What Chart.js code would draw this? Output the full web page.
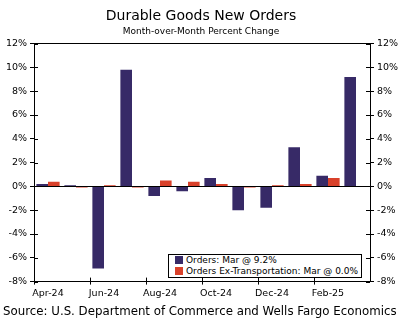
<!DOCTYPE html>
<html>
<head>
<meta charset="utf-8">
<script src="https://cdn.jsdelivr.net/npm/chart.js@4/dist/chart.umd.min.js"></script>
<style>
  html, body { margin: 0; padding: 0; background: #fff; }
  #wrap { position: relative; width: 402px; height: 324px; font-family: "DejaVu Sans", Verdana, sans-serif; }
  #chart { position: absolute; left: 0; top: 0; }
  #legend { position: absolute; left: 168px; top: 254px; width: 192px; border: 1px solid #000; background: #fff;
            font-size: 9px; line-height: 11px; color: #000; }
  #legend div { white-space: nowrap; padding-left: 6px; }
  #legend span { display: inline-block; width: 8px; height: 8px; margin-right: 3px; vertical-align: -1px; }
  #source { position: absolute; left: 3px; top: 304px; font-size: 11.8px; color: #000; white-space: nowrap; }
</style>
</head>
<body>
<div id="wrap">
  <canvas id="chart" width="402" height="324"></canvas>
  <div id="legend"></div>
  <div id="source">Source: U.S. Department of Commerce and Wells Fargo Economics</div>
</div>
<script>
var months = ['Apr-24', 'May-24', 'Jun-24', 'Jul-24', 'Aug-24', 'Sep-24', 'Oct-24', 'Nov-24', 'Dec-24', 'Jan-25', 'Feb-25', 'Mar-25'];
var orders = [0.2, 0.1, -6.9, 9.8, -0.8, -0.4, 0.7, -2.0, -1.8, 3.3, 0.9, 9.2];
var exTransport = [0.4, -0.1, 0.1, -0.1, 0.5, 0.4, 0.2, -0.1, 0.1, 0.2, 0.7, 0.0];
var yTicks = [-8, -6, -4, -2, 0, 2, 4, 6, 8, 10, 12];

var navy = '#372A67';
var red = '#D9412A';
var font = 'DejaVu Sans';

// tick marks that cross the axis lines
var crossTicks = {
    id: 'crossTicks',
    afterDraw: function(chart) {
        var c = chart.ctx, a = chart.chartArea;
        c.save();
        c.strokeStyle = '#000';
        c.lineWidth = 1;
        c.beginPath();
        yTicks.forEach(function(v) {
            var y = Math.round(chart.scales.y.getPixelForValue(v)) + 0.5;
            c.moveTo(a.left, y); c.lineTo(a.left + 4, y);
            c.moveTo(a.right - 4, y); c.lineTo(a.right, y);
        });
        for (var i = 0; i <= months.length; i += 2) {
            var x = Math.round(a.left + (a.right - a.left) * i / months.length) + 0.5;
            c.moveTo(x, a.bottom - 4); c.lineTo(x, a.bottom);
        }
        c.stroke();
        c.restore();
    }
};

var ctx = document.getElementById('chart').getContext('2d');
var chart = new Chart(ctx, {
    type: 'bar',
    data: {
        labels: months,
        datasets: [{
            label: 'Orders: Mar @ 9.2%',
            data: orders,
            backgroundColor: navy,
            yAxisID: 'y'
        }, {
            label: 'Orders Ex-Transportation: Mar @ 0.0%',
            data: exTransport,
            backgroundColor: red,
            yAxisID: 'y'
        }]
    },
    options: {
        responsive: false,
        animation: false,
        layout: { padding: { top: 0, left: 0, right: 0, bottom: 22 } },
        datasets: { bar: { categoryPercentage: 0.83, barPercentage: 1.0 } },
        plugins: {
            legend: { display: false },
            tooltip: { enabled: false },
            title: {
                display: true,
                text: 'Durable Goods New Orders',
                color: '#000',
                font: { family: font, size: 14, weight: 'normal' },
                padding: { top: 8, bottom: 1 }
            },
            subtitle: {
                display: true,
                text: 'Month-over-Month Percent Change',
                color: '#000',
                font: { family: font, size: 9 },
                padding: { top: 0, bottom: 7 }
            }
        },
        scales: {
            x: {
                offset: true,
                grid: {
                    offset: true,
                    drawOnChartArea: false,
                    tickLength: 3,
                    color: function(c) { return c.index % 2 === 0 ? '#000' : 'rgba(0,0,0,0)'; }
                },
                border: { color: '#000', width: 1 },
                ticks: {
                    autoSkip: false,
                    maxRotation: 0,
                    color: '#000',
                    font: { family: font, size: 9.5 },
                    padding: 3,
                    callback: function(v, i) { return i % 2 === 0 ? months[i] : ''; }
                }
            },
            y: {
                position: 'left',
                min: -8, max: 12,
                afterFit: function(s) { s.width = 34; },
                grid: {
                    tickLength: 4,
                    color: function(c) { return (c.tick.value === 0 || c.tick.value === 12) ? '#000' : 'rgba(0,0,0,0)'; },
                    tickColor: '#000'
                },
                border: { color: '#000', width: 1 },
                ticks: {
                    stepSize: 2,
                    color: '#000',
                    font: { family: font, size: 9.5 },
                    padding: 3,
                    callback: function(v) { return v + '%'; }
                }
            },
            y2: {
                position: 'right',
                min: -8, max: 12,
                afterFit: function(s) { s.width = 32; },
                grid: { drawOnChartArea: false, tickLength: 4, tickColor: '#000' },
                border: { color: '#000', width: 1 },
                ticks: {
                    stepSize: 2,
                    color: '#000',
                    font: { family: font, size: 9.5 },
                    padding: 3,
                    callback: function(v) { return v + '%'; }
                }
            }
        }
    },
    plugins: [crossTicks]
});

// legend box drawn from the dataset labels and colours
var legend = document.getElementById('legend');
chart.data.datasets.forEach(function(ds) {
    var row = document.createElement('div');
    var sw = document.createElement('span');
    sw.style.background = ds.backgroundColor;
    row.appendChild(sw);
    row.appendChild(document.createTextNode(ds.label));
    legend.appendChild(row);
});
</script>
</body>
</html>
